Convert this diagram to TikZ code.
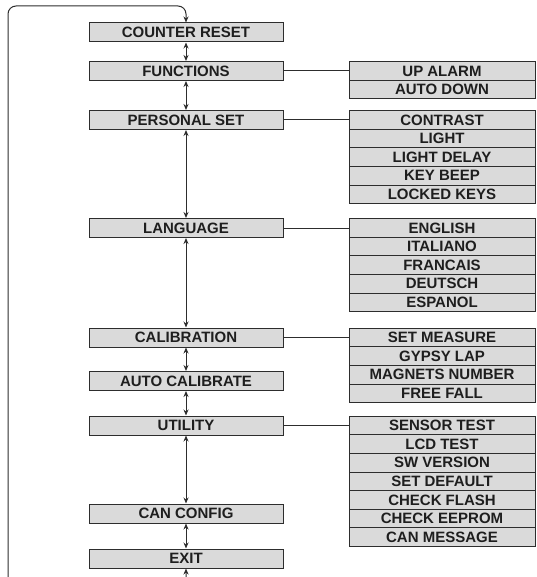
\documentclass[tikz,border=0pt]{standalone}
\usepackage{fontspec}
\usetikzlibrary{calc,arrows.meta,positioning}
\newfontfamily\menufamily{Liberation Sans}
\definecolor{boxgray}{RGB}{218,218,218}
\definecolor{linegray}{RGB}{45,45,45}
\definecolor{textgray}{RGB}{30,30,30}
\tikzset{
    menubox/.style={
        draw=linegray, fill=boxgray, line width=1pt,
        minimum width=194pt, minimum height=19pt, inner sep=0pt,
        text=textgray,
        font=\menufamily\bfseries\fontsize{15}{15}\selectfont
    },
    subbox/.style={
        menubox, minimum width=186pt, minimum height=18.6pt
    },
    link/.style={
        draw=linegray, line width=1pt
    },
    updown/.style={
        link, {Stealth[length=6pt,width=5pt]}-{Stealth[length=6pt,width=5pt]}
    }
}

\begin{document}
\begin{tikzpicture}[x=1pt,y=-1pt]
\useasboundingbox (0,0) rectangle (536,577);
\clip (0,0) rectangle (536,577);
% main menu column
\node[menubox] (reset) at (186,32.5) {COUNTER RESET};
\node[menubox] (fun)   at (186,71)   {FUNCTIONS};
\node[menubox] (pers)  at (186,120)  {PERSONAL SET};
\node[menubox] (lang)  at (186,228)  {LANGUAGE};
\node[menubox] (calib) at (186,337.5){CALIBRATION};
\node[menubox] (auto)  at (186,381)  {AUTO CALIBRATE};
\node[menubox] (util)  at (186,425.5){UTILITY};
\node[menubox] (can)   at (186,513.5){CAN CONFIG};
\node[menubox] (exit)  at (186,558.5){EXIT};
\coordinate (subcol) at (442,0);
% sub menus
\foreach \p/\items in {
    fun/{UP ALARM,AUTO DOWN},
    pers/{CONTRAST,LIGHT,LIGHT DELAY,KEY BEEP,LOCKED KEYS},
    lang/{ENGLISH,ITALIANO,FRANCAIS,DEUTSCH,ESPANOL},
    calib/{SET MEASURE,GYPSY LAP,MAGNETS NUMBER,FREE FALL},
    util/{SENSOR TEST,LCD TEST,SW VERSION,SET DEFAULT,CHECK FLASH,CHECK EEPROM,CAN MESSAGE}}{
    \foreach \t [count=\i] in \items {
        \node[subbox] (\p-\i) at ($(\p.center -| subcol)+(0,{(\i-1)*18.6})$) {\t};
    }
    \draw[link] (\p.east) -- (\p-1.west);
}
% up and down moves
\foreach \a/\b in {reset/fun,fun/pers,pers/lang,lang/calib,calib/auto,auto/util,util/can,can/exit}
    \draw[updown] (\a.south) -- (\b.north);
% wrap round from exit to the top
\draw[updown, rounded corners=8pt] (exit.south) -- ++(0,26) -| (8,6) -| (reset.north);
\end{tikzpicture}
\end{document}
